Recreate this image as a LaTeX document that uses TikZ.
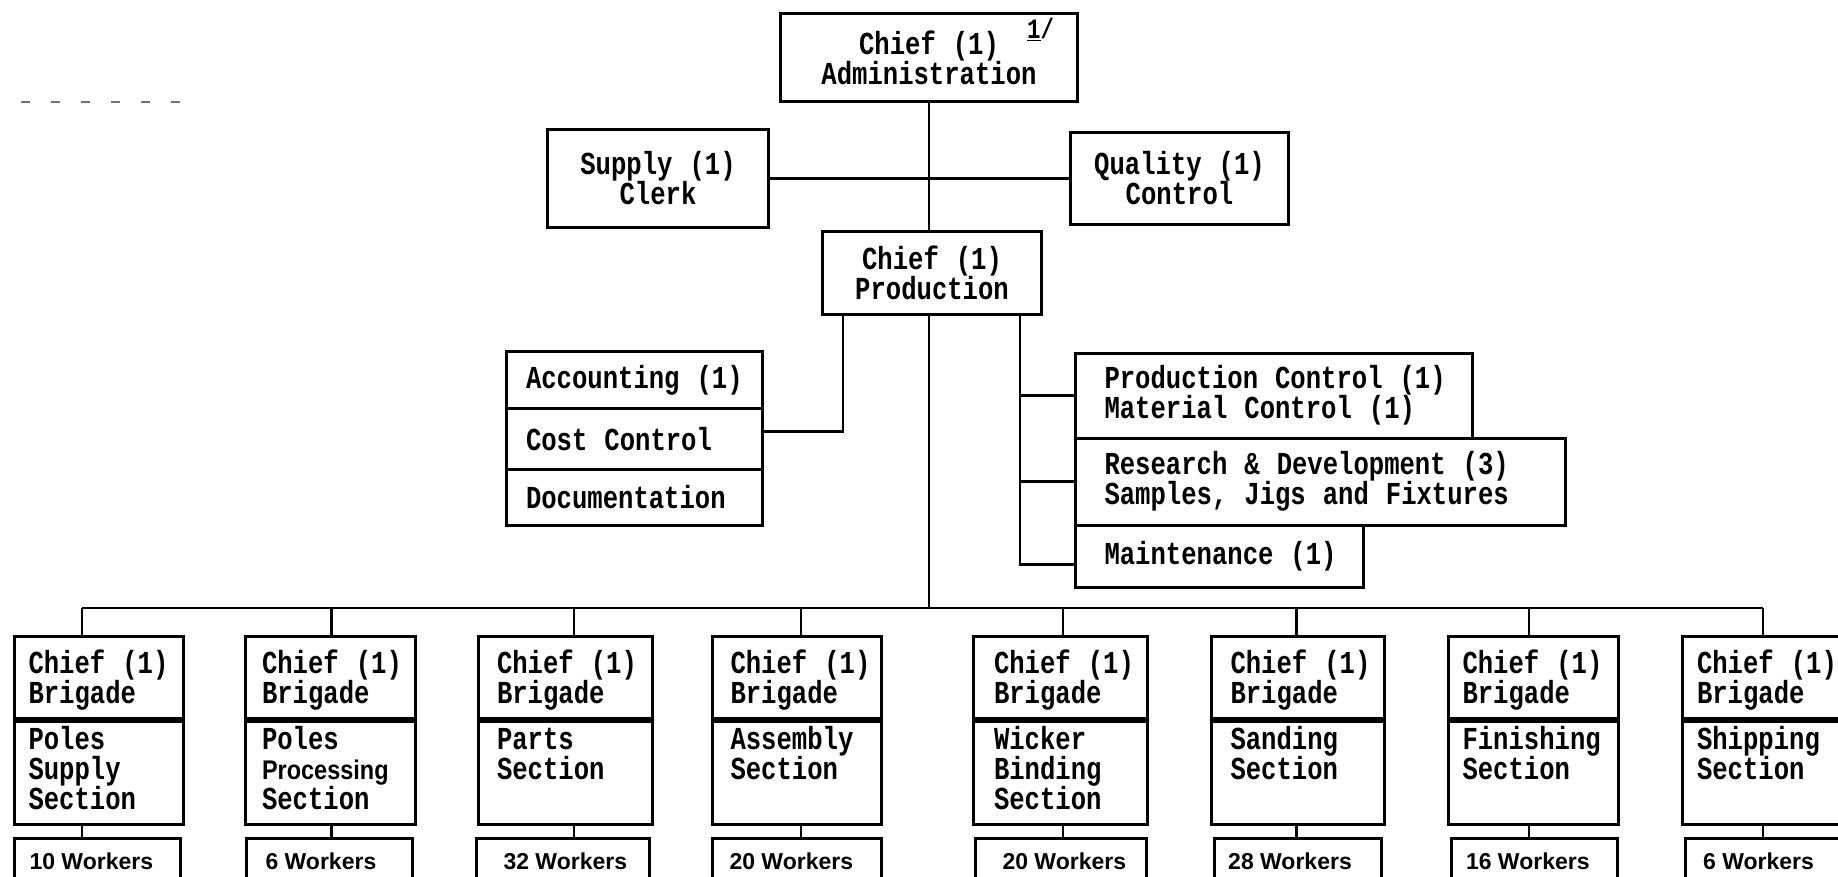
\documentclass[tikz,border=0pt]{standalone}
\usepackage{fontspec}
\newfontfamily\twfont[FakeStretch=0.8]{Liberation Mono}
\newfontfamily\nwfont{Liberation Sans}
\newfontfamily\prfont[FakeStretch=0.87]{Liberation Sans}
\newcommand\twf{\twfont\bfseries\fontsize{32pt}{30pt}\selectfont\fontdimen2\font=17pt\fontdimen3\font=0pt\fontdimen4\font=0pt\hyphenpenalty=10000\exhyphenpenalty=10000\hbadness=10000\hfuzz=100pt}
\usetikzlibrary{calc}
\tikzset{
  bx/.style={draw, line width=3pt, inner sep=0pt},
  ctr/.style={bx, align=center, anchor=north west, font=\twf},
  lft/.style={bx, align=flush left, anchor=north west, font=\twf},
  wkbox/.style={bx, align=flush left, anchor=north west, font={\nwfont\bfseries\fontsize{23pt}{26pt}\selectfont}},
  conn/.style={line width=2.6pt},
  dashline/.style={line width=1.5pt, black!55, dash pattern=on 9pt off 21pt},
}
\begin{document}
\begin{tikzpicture}[x=1pt,y=-1pt]
\useasboundingbox (0,0) rectangle (1838,877);

% top level
\node[ctr, minimum width=297pt, minimum height=88pt] (admin) at (779,12) {Chief~(1)\\Administration};
\node[anchor=base west, inner sep=0pt, font={\twfont\bfseries\fontsize{28pt}{28pt}\selectfont}] (fn) at (1027,39) {\underline{1}/};
\node[ctr, minimum width=221pt, minimum height=98pt] (supply) at (546,128) {Supply~(1)\\Clerk};
\node[ctr, minimum width=218pt, minimum height=92pt] (quality) at (1069,131) {Quality~(1)\\Control};
\node[ctr, minimum width=219pt, minimum height=83pt] (prod) at (821,230) {Chief~(1)\\Production};

% dashed mark
\coordinate (d1) at (21,102);
\coordinate (d2) at (182,102);
\draw[dashline] (d1) -- (d2);

% accounting group
\node[lft, minimum width=256pt, text width=216pt, inner xsep=20pt, minimum height=57pt] (acc) at (504.5,350) {\mbox{Accounting (1)}};
\node[lft, minimum width=256pt, text width=216pt, inner xsep=20pt, minimum height=61pt] (cost) at (504.5,407) {\mbox{Cost Control}};
\node[lft, minimum width=256pt, text width=216pt, inner xsep=20pt, minimum height=56pt] (doc) at (504.5,468) {Documentation};

% right group
\node[lft, minimum width=397pt, text width=339pt, inner xsep=29pt, minimum height=85pt] (pc) at (1074,351.7) {\mbox{Production Control (1)}\\\mbox{Material Control (1)}};
\node[lft, minimum width=490pt, text width=432pt, inner xsep=29pt, minimum height=87pt] (rd) at (1074,436.7) {\mbox{Research \& Development (3)}\\\mbox{Samples, Jigs and Fixtures}};
\node[lft, minimum width=288pt, text width=230pt, inner xsep=29pt, minimum height=62pt] (maint) at (1074,524) {\mbox{Maintenance (1)}};

% connectors top
\draw[conn] (admin.south) -- (admin.south |- prod.north);
\draw[conn] (supply.east) -- (quality.west);
\draw[conn] ([xshift=22pt]prod.south west) |- ([yshift=7.5pt]cost.east);
\coordinate (rl) at ([xshift=-23pt]prod.south east);
\draw[conn] (rl) |- ([yshift=-8pt]maint.west);
\draw[conn] (pc.west -| rl) -- (pc.west);
\draw[conn] (rd.west -| rl) -- (rd.west);

% brigades
\foreach \n/\L/\W/\D/\P/\WL/\WW/\WP/\sec/\wk in {
 1/13/169/82/14/13/166/15/{Poles\\Supply\\Section}/10 Workers,
 2/243.5/170/331.5/17/245/166/19/{Poles\\{\prfont\bfseries\fontsize{27pt}{30pt}\selectfont Processing}\\Section}/6 Workers,
 3/476.5/174/574/19/475/173/27/{Parts\\Section}/32 Workers,
 4/711/169/801/18/711/169/17/{Assembly\\Section}/20 Workers,
 5/971.5/174/1063/21/974/171/27/{Wicker\\Binding\\Section}/20 Workers,
 6/1210/172.5/1296.5/19/1212.7/167/14/{Sanding\\Section}/28 Workers,
 7/1447/170/1529/14/1450/166/14.5/{Finishing\\Section}/16 Workers,
 8/1681/180/1763/14.5/1684/180/17.6/{Shipping\\Section}/6 Workers}
{
 \pgfmathsetmacro\tA{\W-2*\P}
 \pgfmathsetmacro\tB{\WW-2*\WP}
 \coordinate (b\n) at (\D,608);
 \node[lft, minimum width=\W pt, text width=\tA pt, inner xsep=\P pt, text height=36.5pt, text depth=45.5pt] (c\n) at (\L,635) {\mbox{Chief (1)}\\Brigade};
 \node[lft, minimum width=\W pt, text width=\tA pt, inner xsep=\P pt, text height=28pt, text depth=75pt] (s\n) at (c\n.south west) {\sec};
 \node[wkbox, minimum width=\WW pt, text width=\tB pt, inner xsep=\WP pt, text height=31.3pt, text depth=11pt] (w\n) at (\WL,836.7) {\mbox{\wk}};
 \draw[conn] (b\n) -- (b\n |- c\n.north);
 \draw[conn] (b\n |- s\n.south) -- (b\n |- w\n.north);
}
\draw[conn] (b1) -- (b8);
\draw[conn] (admin.south |- prod.south) -- (admin.south |- b1);
\end{tikzpicture}
\end{document}
